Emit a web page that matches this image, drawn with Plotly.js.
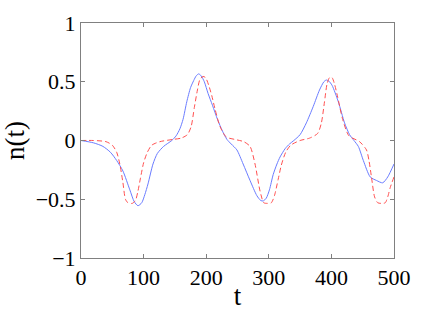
<!DOCTYPE html>
<html>
<head>
<meta charset="utf-8">
<script src="https://cdn.plot.ly/plotly-3.0.1.min.js"></script>
<style>html,body{margin:0;padding:0;background:#fff;}#chart{width:436px;height:311px;}</style>
</head>
<body>
<div id="chart"></div>
<script>
// Blue solid series n(t)
const tBlue = [0, 20, 35, 47, 57, 67, 78, 85, 91, 97, 102, 107, 115, 122, 132, 145, 152, 158, 163, 169, 175, 180, 184, 188, 192, 197, 203, 210, 218, 226, 233, 240, 249, 259, 270, 281, 287, 291, 296, 301, 307, 313, 318, 326, 333, 340, 350, 360, 371, 381, 388, 392, 396, 401, 411, 421, 429, 436, 443, 451, 462, 472, 482, 490, 500];
const nBlue = [0, -0.02, -0.05, -0.1, -0.17, -0.26, -0.42, -0.52, -0.555, -0.53, -0.46, -0.37, -0.2, -0.11, -0.05, 0, 0.04, 0.1, 0.18, 0.33, 0.45, 0.51, 0.55, 0.567, 0.55, 0.5, 0.4, 0.3, 0.18, 0.08, 0.01, -0.03, -0.08, -0.2, -0.34, -0.47, -0.51, -0.515, -0.49, -0.42, -0.29, -0.2, -0.14, -0.07, -0.03, 0, 0.05, 0.15, 0.29, 0.43, 0.5, 0.515, 0.505, 0.47, 0.33, 0.15, 0.05, 0.0, -0.05, -0.17, -0.31, -0.34, -0.36, -0.31, -0.2];
// Red dashed series
const tRed = [0, 20, 40, 50, 57, 62, 67, 71, 75, 82, 87, 91, 95, 100, 106, 113, 126, 148, 160, 170, 176, 181, 186, 190, 195, 199, 204, 209, 214, 222, 232, 245, 260, 270, 278, 286, 292, 298, 304, 309, 315, 320, 327, 335, 350, 365, 378, 384, 389, 393, 397, 401, 405, 410, 418, 428, 445, 456, 460, 464, 469, 474, 480, 486, 490, 494, 500];
const nRed = [0, 0, -0.01, -0.04, -0.1, -0.2, -0.36, -0.5, -0.53, -0.535, -0.51, -0.43, -0.32, -0.19, -0.1, -0.04, -0.01, 0.01, 0.02, 0.05, 0.12, 0.28, 0.43, 0.52, 0.545, 0.535, 0.47, 0.38, 0.27, 0.12, 0.03, 0.01, -0.01, -0.05, -0.2, -0.43, -0.53, -0.535, -0.53, -0.47, -0.33, -0.21, -0.1, -0.04, 0, 0.02, 0.06, 0.15, 0.33, 0.48, 0.535, 0.535, 0.48, 0.37, 0.18, 0.04, -0.01, -0.08, -0.17, -0.31, -0.48, -0.53, -0.535, -0.53, -0.48, -0.4, -0.31];
const xTicks = [0, 100, 200, 300, 400, 500];
const yTicks = [-1, -0.5, 0, 0.5, 1];
const yTickText = ['\u22121', '\u22120.5', '0', '0.5', '1'];

const font = "Liberation Serif";
const traces = [
  {x: tBlue, y: nBlue, mode: 'lines', line: {color: '#6a7cff', width: 1, shape: 'spline', smoothing: 0.7}, showlegend: false},
  {x: tRed, y: nRed, mode: 'lines', line: {color: '#ff5050', width: 1, dash: '5px,3px', shape: 'spline', smoothing: 0.7}, showlegend: false}
];
const axisCommon = {
  showgrid: false, zeroline: false, showline: true, linecolor: '#808080', linewidth: 1,
  mirror: 'ticks', ticks: 'inside', ticklen: 4, tickcolor: '#808080',
  tickfont: {family: font, size: 22, color: '#000'}
};
const layout = {
  width: 436, height: 311,
  font: {family: font, color: '#000'},
  margin: {l: 81, r: 42, t: 23, b: 53},
  paper_bgcolor: '#fff', plot_bgcolor: '#fff',
  xaxis: Object.assign({}, axisCommon, {
    range: [0, 500], tickvals: xTicks, ticktext: xTicks.map(String),
    title: {text: 't', font: {family: font, size: 27, color: '#000'}, standoff: 0}
  }),
  yaxis: Object.assign({}, axisCommon, {
    range: [-1, 1], tickvals: yTicks, ticktext: yTickText,
    title: {text: 'n(t)', font: {family: font, size: 27, color: '#000'}, standoff: 8}
  })
};
Plotly.newPlot('chart', traces, layout, {staticPlot: true, displayModeBar: false});
</script>
</body>
</html>
